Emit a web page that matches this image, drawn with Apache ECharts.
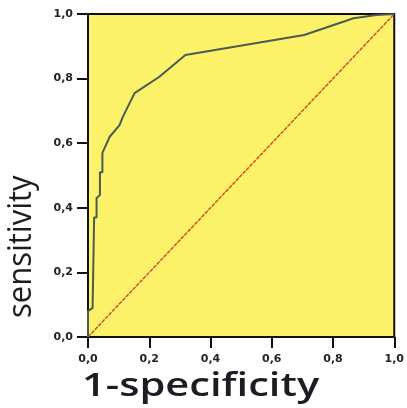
<!DOCTYPE html>
<html>
<head>
<meta charset="utf-8">
<script src="https://cdn.jsdelivr.net/npm/echarts@6/dist/echarts.min.js"></script>
<style>html,body{margin:0;padding:0;background:#fff}#c{width:407px;height:408px}</style>
</head>
<body>
<div id="c"></div>
<script>
const tickValues = [0, 0.2, 0.4, 0.6, 0.8, 1.0];
const rocFpr = [0, 0, 0.015, 0.02, 0.02, 0.028, 0.028, 0.039, 0.039, 0.047, 0.047, 0.071, 0.103, 0.113, 0.152, 0.232, 0.318, 0.706, 0.867, 0.942, 1];
const rocTpr = [0, 0.08, 0.09, 0.09, 0.37, 0.37, 0.43, 0.44, 0.51, 0.51, 0.57, 0.62, 0.656, 0.68, 0.755, 0.805, 0.873, 0.935, 0.987, 0.997, 1];
const refFpr = [0, 1];
const refTpr = [0, 1];
const xTitle = '1-specificity';
const yTitle = 'sensitivity';

const fmt = v => v.toFixed(1).replace('.', ',');
const chart = echarts.init(document.getElementById('c'));
const axisCommon = {
  type: 'value', min: 0, max: 1, interval: 0.2,
  axisLine: { show: true, lineStyle: { color: '#111', width: 2 } },
  axisTick: { show: true, inside: false, length: 11, lineStyle: { color: '#111', width: 2 } },
  splitLine: { show: false },
  axisLabel: { formatter: fmt, color: '#222', fontFamily: 'DejaVu Sans', fontWeight: 'bold', fontSize: 11 }
};
chart.setOption({
  animation: false,
  grid: { left: 88, top: 14, right: 9, bottom: 71, show: true, backgroundColor: '#fbf26a', borderColor: '#111', borderWidth: 2 },
  xAxis: Object.assign({}, axisCommon, { axisLabel: Object.assign({}, axisCommon.axisLabel, { margin: 17 }) }),
  yAxis: Object.assign({}, axisCommon, { axisLabel: Object.assign({}, axisCommon.axisLabel, { margin: 15 }) }),
  series: [
    { type: 'line', data: refFpr.map((x, i) => [x, refTpr[i]]), symbol: 'none', lineStyle: { color: '#d2512a', width: 1.5, type: [4, 1] }, z: 2 },
    { type: 'line', data: rocFpr.map((x, i) => [x, rocTpr[i]]), symbol: 'none', lineStyle: { color: '#4c5a50', width: 2 }, z: 3 }
  ],
  graphic: [
    { type: 'text', left: 82, top: 371, style: { text: xTitle, font: '600 32px "Open Sans"', fill: '#1c1c22' }, scaleX: 1.3 },
    { type: 'text', x: 5, y: 318, rotation: Math.PI / 2, style: { text: yTitle, font: '31px "Open Sans"', fill: '#1c1c22', textVerticalAlign: 'top' }, scaleY: 1.08 }
  ]
});
</script>
</body>
</html>
